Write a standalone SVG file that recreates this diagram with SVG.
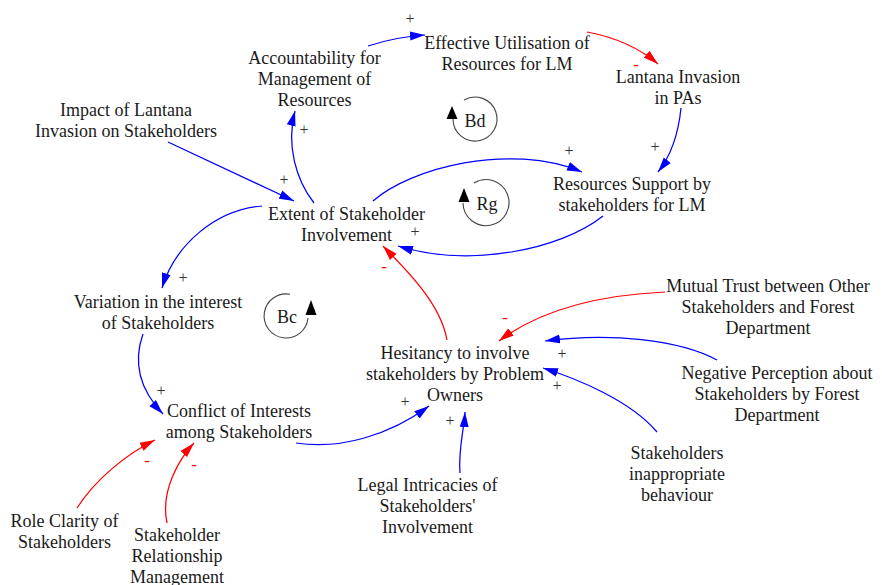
<svg xmlns="http://www.w3.org/2000/svg" width="882" height="585" viewBox="0 0 882 585" font-family="'Liberation Serif', 'DejaVu Serif', serif">
  <style>
    .lbl { font-size: 18px; fill: #1a1a1a; text-anchor: middle; }
    .pol { font-size: 16px; fill: #333333; text-anchor: middle; }
    .neg { font-size: 17px; fill: #ff0000; text-anchor: middle; }
    .pos-link { fill: none; stroke: #0000ff; stroke-width: 1.25; marker-end: url(#head-blue); }
    .neg-link { fill: none; stroke: #ff0000; stroke-width: 1.25; marker-end: url(#head-red); }
    .loop { fill: none; stroke: #444444; stroke-width: 1.1; }
    .loop-head { fill: #000000; }
  </style>
  <defs>
    <marker id="head-blue" markerUnits="userSpaceOnUse" viewBox="0 0 15 10" markerWidth="15" markerHeight="10" refX="15" refY="5" orient="auto">
      <path d="M0,0.5 L15,5 L0,9.5 z" fill="#0000ff"/>
    </marker>
    <marker id="head-red" markerUnits="userSpaceOnUse" viewBox="0 0 15 10" markerWidth="15" markerHeight="10" refX="15" refY="5" orient="auto">
      <path d="M0,0.5 L15,5 L0,9.5 z" fill="#ff0000"/>
    </marker>
  </defs>
  <rect width="882" height="585" fill="#ffffff"/>

  <!-- causal links -->
  <g id="links">
    <path class="pos-link" d="M368,46 Q395,37 425,35"/>
    <path class="neg-link" d="M587,32 Q630,40 658,64"/>
    <path class="pos-link" d="M681,108 Q677,148 658,172"/>
    <path class="pos-link" d="M373,201 C410,168 510,142 582,172"/>
    <path class="pos-link" d="M603,216 C560,250 470,268 398,246"/>
    <path class="pos-link" d="M168,142 L294,201"/>
    <path class="pos-link" d="M314,203 C296,180 286,145 295,111"/>
    <path class="pos-link" d="M262,206 C215,210 175,245 162,288"/>
    <path class="pos-link" d="M143,334 C132,365 142,392 163,414"/>
    <path class="pos-link" d="M296,443 C340,450 390,435 429,406"/>
    <path class="neg-link" d="M447,340 C440,300 398,262 383,246"/>
    <path class="neg-link" d="M665,292 C600,295 540,310 499,341"/>
    <path class="pos-link" d="M717,360 C680,340 610,332 545,341"/>
    <path class="pos-link" d="M657,432 C630,400 575,378 543,368"/>
    <path class="pos-link" d="M460,473 C458,450 464,430 465,412"/>
    <path class="neg-link" d="M77,508 C95,480 125,455 155,440"/>
    <path class="neg-link" d="M167,523 C160,490 180,458 194,443"/>
  </g>

  <!-- link polarities -->
  <g id="polarities">
    <text class="pol" x="410" y="24">+</text>
    <text class="neg" x="636" y="70">-</text>
    <text class="pol" x="655" y="152">+</text>
    <text class="pol" x="569" y="156">+</text>
    <text class="pol" x="415" y="237">+</text>
    <text class="pol" x="284" y="185">+</text>
    <text class="pol" x="304" y="135">+</text>
    <text class="pol" x="183" y="283">+</text>
    <text class="pol" x="161" y="396">+</text>
    <text class="pol" x="405" y="407">+</text>
    <text class="neg" x="384" y="272">-</text>
    <text class="neg" x="505" y="323">-</text>
    <text class="pol" x="562" y="359">+</text>
    <text class="pol" x="557" y="391">+</text>
    <text class="pol" x="450" y="426">+</text>
    <text class="neg" x="147" y="466">-</text>
    <text class="neg" x="194" y="470">-</text>
  </g>

  <!-- loop identifiers -->
  <g id="loop-Bd">
    <path class="loop" d="M464,100 A22,22 0 1 1 453,119"/>
    <polygon class="loop-head" points="452,106 446.5,119 457.5,119"/>
    <text class="lbl" x="475" y="127">Bd</text>
  </g>
  <g id="loop-Rg">
    <path class="loop" d="M474,183 A23,23 0 1 1 463,203"/>
    <polygon class="loop-head" points="464,188 458.5,202 469.5,202"/>
    <text class="lbl" x="487" y="210">Rg</text>
  </g>
  <g id="loop-Bc">
    <path class="loop" d="M290,294.3 A22,22 0 1 0 308,318"/>
    <polygon class="loop-head" points="311,300 305.5,315 316.5,315"/>
    <text class="lbl" x="287" y="323">Bc</text>
  </g>

  <!-- variables -->
  <g id="effective-utilisation">
    <text class="lbl" x="507" y="49">Effective Utilisation of</text>
    <text class="lbl" x="507" y="70">Resources for LM</text>
  </g>
  <g id="accountability">
    <text class="lbl" x="314.5" y="64">Accountability for</text>
    <text class="lbl" x="314.5" y="85">Management of</text>
    <text class="lbl" x="314.5" y="106">Resources</text>
  </g>
  <g id="lantana-invasion">
    <text class="lbl" x="678" y="83">Lantana Invasion</text>
    <text class="lbl" x="678" y="104">in PAs</text>
  </g>
  <g id="impact-lantana">
    <text class="lbl" x="126" y="116">Impact of Lantana</text>
    <text class="lbl" x="126" y="137">Invasion on Stakeholders</text>
  </g>
  <g id="extent-involvement">
    <text class="lbl" x="346.5" y="220">Extent of Stakeholder</text>
    <text class="lbl" x="346.5" y="241">Involvement</text>
  </g>
  <g id="resources-support">
    <text class="lbl" x="632" y="190">Resources Support by</text>
    <text class="lbl" x="632" y="211">stakeholders for LM</text>
  </g>
  <g id="variation-interest">
    <text class="lbl" x="158" y="308">Variation in the interest</text>
    <text class="lbl" x="158" y="329">of Stakeholders</text>
  </g>
  <g id="conflict-interests">
    <text class="lbl" x="239" y="417">Conflict of Interests</text>
    <text class="lbl" x="239" y="438">among Stakeholders</text>
  </g>
  <g id="hesitancy">
    <text class="lbl" x="455" y="359">Hesitancy to involve</text>
    <text class="lbl" x="455" y="380">stakeholders by Problem</text>
    <text class="lbl" x="455" y="401">Owners</text>
  </g>
  <g id="mutual-trust">
    <text class="lbl" x="768" y="292">Mutual Trust between Other</text>
    <text class="lbl" x="768" y="313">Stakeholders and Forest</text>
    <text class="lbl" x="768" y="334">Department</text>
  </g>
  <g id="negative-perception">
    <text class="lbl" x="777" y="379">Negative Perception about</text>
    <text class="lbl" x="777" y="400">Stakeholders by Forest</text>
    <text class="lbl" x="777" y="421">Department</text>
  </g>
  <g id="inappropriate-behaviour">
    <text class="lbl" x="677" y="459">Stakeholders</text>
    <text class="lbl" x="677" y="480">inappropriate</text>
    <text class="lbl" x="677" y="501">behaviour</text>
  </g>
  <g id="legal-intricacies">
    <text class="lbl" x="427.5" y="491">Legal Intricacies of</text>
    <text class="lbl" x="427.5" y="512">Stakeholders'</text>
    <text class="lbl" x="427.5" y="533">Involvement</text>
  </g>
  <g id="role-clarity">
    <text class="lbl" x="64.5" y="527">Role Clarity of</text>
    <text class="lbl" x="64.5" y="548">Stakeholders</text>
  </g>
  <g id="relationship-management">
    <text class="lbl" x="177" y="541">Stakeholder</text>
    <text class="lbl" x="177" y="562">Relationship</text>
    <text class="lbl" x="177" y="583">Management</text>
  </g>
</svg>
